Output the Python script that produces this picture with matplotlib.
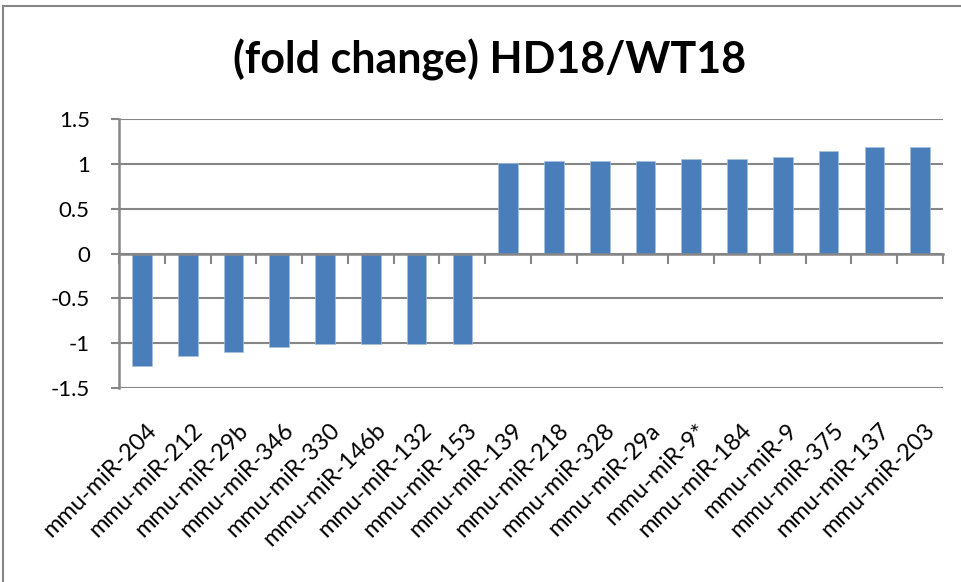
import numpy as np
import matplotlib
matplotlib.use("Agg")
import matplotlib.pyplot as plt
from matplotlib.patches import Rectangle
from matplotlib.transforms import blended_transform_factory, ScaledTranslation

# dados
mirnas = ["mmu-miR-204", "mmu-miR-212", "mmu-miR-29b", "mmu-miR-346", "mmu-miR-330",
          "mmu-miR-146b", "mmu-miR-132", "mmu-miR-153", "mmu-miR-139", "mmu-miR-218",
          "mmu-miR-328", "mmu-miR-29a", "mmu-miR-9*", "mmu-miR-184", "mmu-miR-9",
          "mmu-miR-375", "mmu-miR-137", "mmu-miR-203"]
fold_change = [-1.26, -1.15, -1.10, -1.05, -1.01, -1.01, -1.01, -1.01, 1.01, 1.03,
               1.03, 1.03, 1.06, 1.06, 1.08, 1.15, 1.19, 1.19]
y_ticks = [-1.5, -1, -0.5, 0, 0.5, 1, 1.5]
y_tick_labels = ["-1.5", "-1", "-0.5", "0", "0.5", "1", "1.5"]
titulo = "(fold change) HD18/WT18"

cinza = "#868686"
azul = "#4a7ebb"

plt.rcParams['font.family'] = ['Lato', 'DejaVu Sans']

fig = plt.figure(figsize=(9.62, 5.82), dpi=100)
ax = fig.add_axes([0.1237, 0.3338, 0.8566, 0.4612])

x = np.arange(len(mirnas))
ax.bar(x, fold_change, width=0.43, color=azul, edgecolor="#a7c0de", linewidth=0.5, zorder=3)

ax.set_xlim(-0.5, len(mirnas) - 0.5)
ax.set_ylim(-1.5, 1.5)

# grade horizontal
ax.set_yticks(y_ticks)
ax.set_yticklabels(y_tick_labels, fontsize=16)
ax.yaxis.grid(True, color=cinza, linewidth=1.5, zorder=1)
ax.tick_params(axis='y', length=6, width=1.5, color=cinza, pad=15)

for s in ["top", "right"]:
    ax.spines[s].set_visible(False)
ax.spines["left"].set_color(cinza)
ax.spines["left"].set_linewidth(1.8)
ax.spines["bottom"].set_position(("data", 0))
ax.spines["bottom"].set_color(cinza)
ax.spines["bottom"].set_linewidth(1.8)
ax.spines["bottom"].set_zorder(4)

# marcas entre as categorias no eixo zero
ax.set_xticks(np.arange(len(mirnas) + 1) - 0.5)
ax.set_xticklabels([])
ax.tick_params(axis='x', length=7, width=1.5, color=cinza, direction='out')

# rotulos das categorias abaixo da area do grafico
trans = blended_transform_factory(ax.transData, ax.transAxes)
off = ScaledTranslation(3 / 72, -23 / 72, fig.dpi_scale_trans)
for i, nome in enumerate(mirnas):
    ax.text(i, 0, nome, transform=trans + off, rotation=45, rotation_mode='anchor',
            ha='right', va='top', fontsize=17)

fig.text(0.509, 1 - 60 / 582, titulo, ha='center', va='center',
         fontsize=31, fontweight='bold')

# borda da area do grafico
fig.patches.append(Rectangle((3 / 962, -0.1), 1.2, 1 - 6 / 582 + 0.1,
                             transform=fig.transFigure, fill=False,
                             edgecolor=cinza, linewidth=1.5))

fig.savefig("out.png", dpi=100)
